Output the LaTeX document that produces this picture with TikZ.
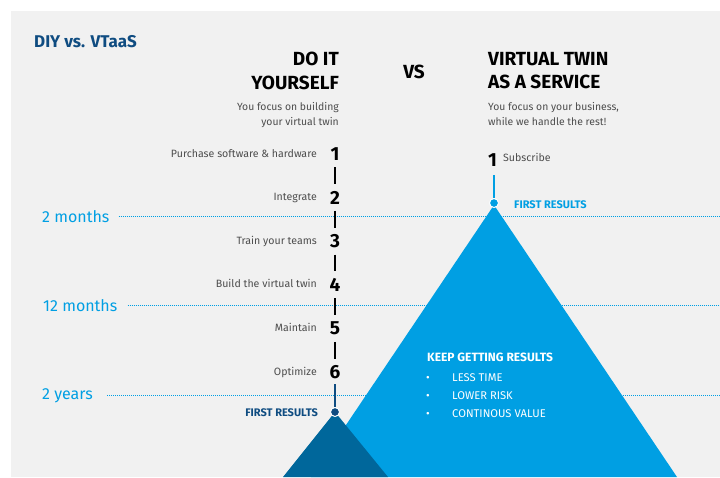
\documentclass[tikz,border=0pt]{standalone}
\usepackage{fontspec}
\setmainfont{Fira Sans}
\usepackage{xcolor}
\definecolor{bleuclair}{HTML}{009FE3}
\definecolor{bleufonce}{HTML}{0F4C81}
\definecolor{bleutri}{HTML}{00679B}
\definecolor{fond}{HTML}{F1F1F1}
\definecolor{gristexte}{HTML}{4D4D4D}

\begin{document}
\begin{tikzpicture}[x=1pt,y=-1pt]
% Styles (MODIFIABLES)
\tikzstyle{titre}=[font=\fontsize{19}{23.5}\selectfont\bfseries,inner sep=0pt]
\tikzstyle{soustitre}=[font=\fontsize{10.4}{15}\selectfont,text=gristexte,inner sep=0pt]
\tikzstyle{etape}=[anchor=base east,font=\fontsize{10.6}{12}\selectfont,text=gristexte,inner sep=0pt]
\tikzstyle{numero}=[anchor=base,font=\fontsize{19}{22}\selectfont\bfseries,inner sep=0pt]
\tikzstyle{duree}=[anchor=base west,font=\fontsize{16}{18}\selectfont,text=bleuclair,inner sep=0pt]
\tikzstyle{pointilles}=[bleuclair,line width=1pt,dash pattern=on 1pt off 1pt]
\tikzstyle{trait}=[line width=1.2pt,shorten <=6.5pt,shorten >=6.5pt]
\tikzstyle{pastille}=[circle,draw=white,line width=1pt,minimum size=9pt,inner sep=0pt]
\tikzstyle{resultat}=[font=\fontsize{11}{13}\selectfont\bfseries,inner sep=0pt]
\tikzstyle{puce}=[anchor=base west,font=\fontsize{11.2}{13}\selectfont,text=white,inner sep=0pt]
% Dimensions (MODIFIABLES)
\def\Axe{335}
\def\AxeB{494}
\def\Depart{157}
\def\Pas{43.6}
\def\Decal{3.5}
% Fond
\useasboundingbox (0,0) rectangle (720,477);
\fill[fond] (11,11) rectangle (720,477);
\coordinate (Bord) at (720,0);
% Durees et pointilles
\node[duree] (T1) at (42,222) {2 months};
\node[duree] (T2) at (43,311) {12 months};
\node[duree] (T3) at (42,399) {2 years};
\draw[pointilles] ([xshift=9pt]T1.east) -- (T1.east -| Bord);
\draw[pointilles] ([xshift=10pt]T2.east) -- (T2.east -| Bord);
\draw[pointilles] ([xshift=14pt]T3.east) -- (T3.east -| Bord);
% Triangles
\coordinate (S2) at (\AxeB,205);
\coordinate (S1) at (\Axe,412);
\fill[bleuclair] (S2) -- (311,477) -- (677,477) -- cycle;
\fill[bleutri] (S1) -- (283,477) -- (388,477) -- cycle;
% Titres
\node[font=\fontsize{17}{20}\selectfont\bfseries,text=bleufonce,anchor=base west,inner sep=0pt] (Titre) at (34,47) {DIY vs. VTaaS};
\node[titre,align=right,anchor=north east] (Ha) at (339,52) {DO IT\\YOURSELF};
\node[titre] (VS) at (414,72) {VS};
\node[titre,align=left,anchor=north west] (Hb) at (488,52) {VIRTUAL TWIN\\AS A SERVICE};
\node[soustitre,align=right,anchor=north east] (Sa) at (339,102) {You focus on building\\your virtual twin};
\node[soustitre,align=left,anchor=north west] (Sb) at (488,102) {You focus on your business,\\while we handle the rest!};
% Etapes DIY
\node[etape] (E1) at (317,{\Depart+0*\Pas}) {Purchase software \& hardware};
\node[etape] (E2) at (317,{\Depart+1*\Pas}) {Integrate};
\node[etape] (E3) at (317,{\Depart+2*\Pas}) {Train your teams};
\node[etape] (E4) at (317,{\Depart+3*\Pas}) {Build the virtual twin};
\node[etape] (E5) at (317,{\Depart+4*\Pas}) {Maintain};
\node[etape] (E6) at (317,{\Depart+5*\Pas}) {Optimize};
\node[numero] (N1) at (\Axe,{\Depart+\Decal+0*\Pas}) {1};
\node[numero] (N2) at (\Axe,{\Depart+\Decal+1*\Pas}) {2};
\node[numero] (N3) at (\Axe,{\Depart+\Decal+2*\Pas}) {3};
\node[numero] (N4) at (\Axe,{\Depart+\Decal+3*\Pas}) {4};
\node[numero] (N5) at (\Axe,{\Depart+\Decal+4*\Pas}) {5};
\node[numero] (N6) at (\Axe,{\Depart+\Decal+5*\Pas}) {6};
\draw[trait] (N1.south) -- (N2.north);
\draw[trait] (N2.south) -- (N3.north);
\draw[trait] (N3.south) -- (N4.north);
\draw[trait] (N4.south) -- (N5.north);
\draw[trait] (N5.south) -- (N6.north);
\node[pastille,fill=bleufonce] (P1) at (S1) {};
\draw[bleufonce,line width=1.2pt,shorten <=5pt] (N6.south) -- (P1);
\node[resultat,text=bleufonce,anchor=east] (R1) at (318,413) {FIRST RESULTS};
% Etapes VTaaS
\node[numero] (M1) at (492.5,166) {1};
\node[etape,anchor=west] (F1) at (503,157.5) {Subscribe};
\node[pastille,fill=bleuclair] (P2) at (\AxeB,203) {};
\draw[bleuclair,line width=1.2pt,shorten <=9pt] (M1.base -| P2) -- (P2);
\node[resultat,text=bleuclair,anchor=west] (R2) at (514,205) {FIRST RESULTS};
% Resultats continus
\node[resultat,font=\fontsize{12}{14}\selectfont\bfseries,text=white,anchor=base west] (K) at (427,361) {KEEP GETTING RESULTS};
\node[puce] (B1) at (426,381) {•};
\node[puce] (B2) at (426,399) {•};
\node[puce] (B3) at (426,417) {•};
\node[puce] (K1) at (452,381) {LESS TIME};
\node[puce] (K2) at (452,399) {LOWER RISK};
\node[puce] (K3) at (452,417) {CONTINOUS VALUE};
\end{tikzpicture}
\end{document}
